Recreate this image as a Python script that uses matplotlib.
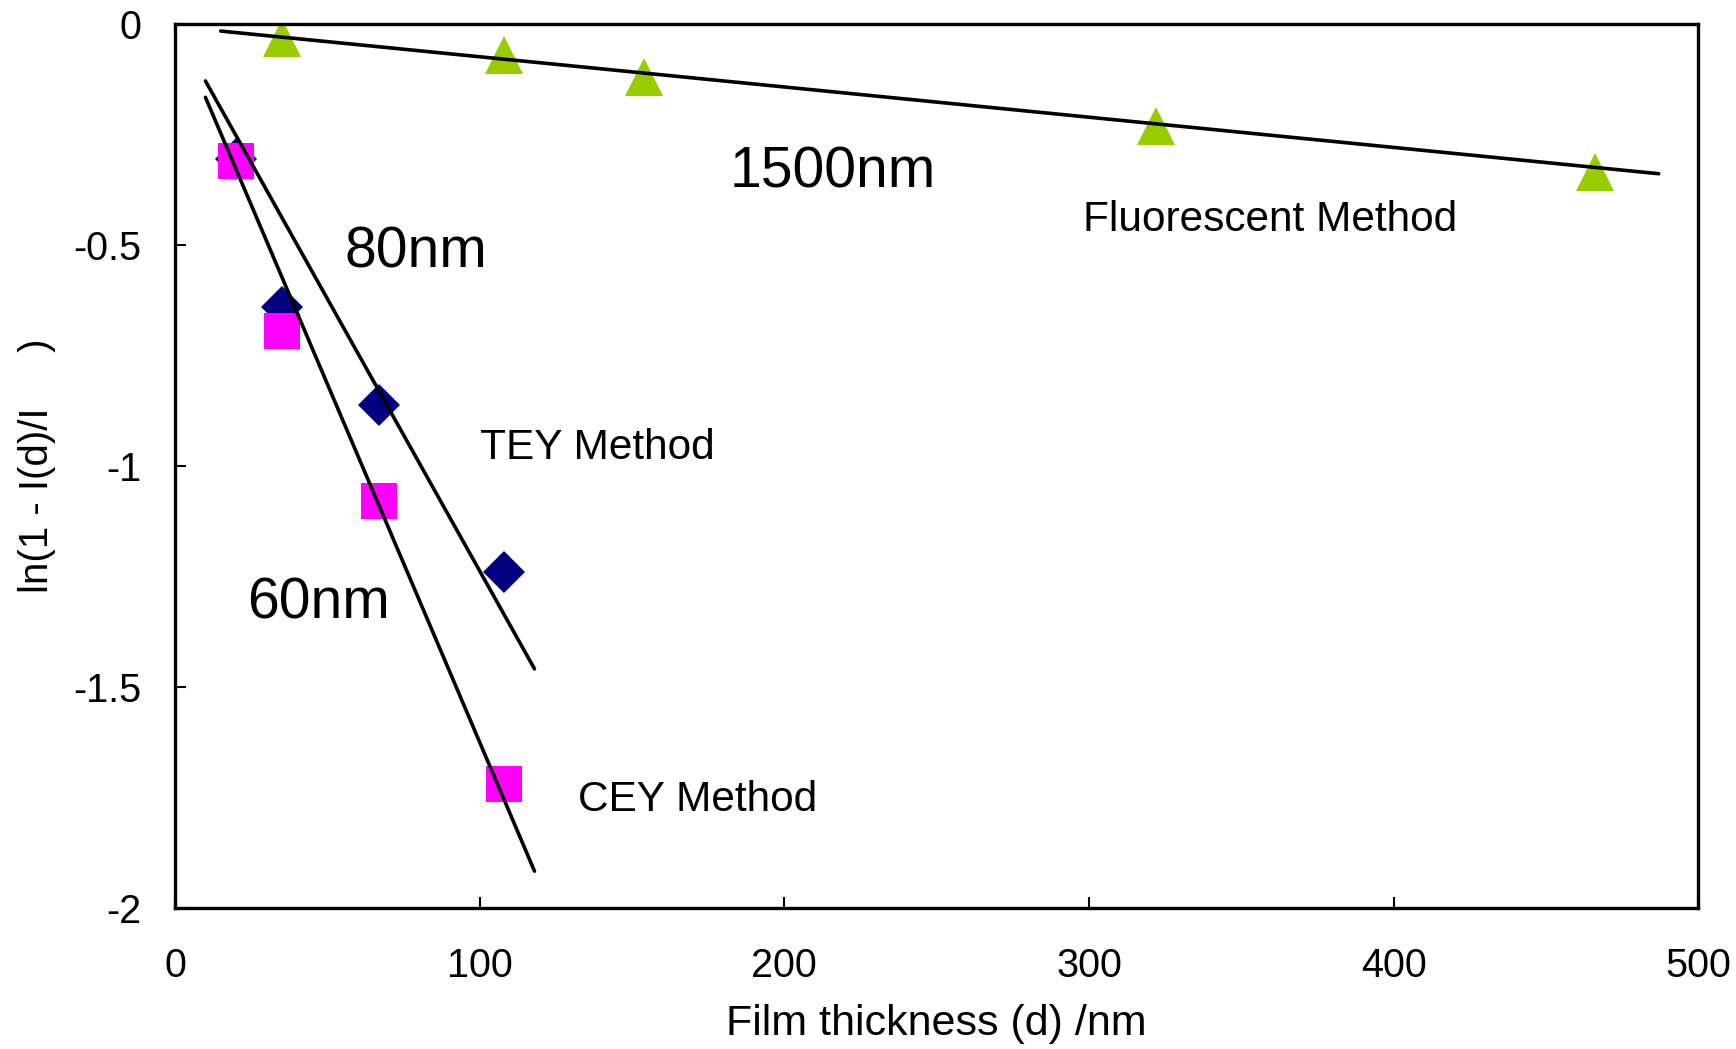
import numpy as np
import matplotlib
matplotlib.use("Agg")
from matplotlib import pyplot as plt

plt.rcParams['font.family'] = ['Liberation Sans', 'DejaVu Sans']

# Fluorescent method (triangles)
fl_x = [35, 108, 154, 322, 466]
fl_y = [-0.03, -0.07, -0.12, -0.23, -0.335]
# TEY method (diamonds)
tey_x = [20, 35, 67, 108]
tey_y = [-0.305, -0.64, -0.862, -1.24]
# CEY method (squares)
cey_x = [20, 35, 67, 108]
cey_y = [-0.31, -0.695, -1.08, -1.72]

# fitted lines (end points)
fl_fit_x = [15, 487]
fl_fit_y = [-0.015, -0.338]
tey_fit_x = [10, 118]
tey_fit_y = [-0.128, -1.459]
cey_fit_x = [10, 118]
cey_fit_y = [-0.165, -1.917]

fig = plt.figure(figsize=(17.36, 10.49), dpi=100)
ax = fig.add_axes([0.1008, 0.1346, 0.8775, 0.8421])

ax.plot(fl_x, fl_y, '^', color='#99CC00', markersize=27, markeredgewidth=0, zorder=2)
ax.plot(tey_x, tey_y, 'D', color='#000080', markersize=21, markeredgewidth=0, zorder=2)
ax.plot(cey_x, cey_y, 's', color='#FF00FF', markersize=26, markeredgewidth=0, zorder=3)

for fx, fy in [(fl_fit_x, fl_fit_y), (tey_fit_x, tey_fit_y), (cey_fit_x, cey_fit_y)]:
    ax.plot(fx, fy, color='black', lw=2.6, solid_capstyle='round', zorder=4)

ax.text(216, -0.336, '1500nm', fontsize=41, ha='center', va='center')
ax.text(79, -0.517, '80nm', fontsize=41, ha='center', va='center')
ax.text(47, -1.31, '60nm', fontsize=41, ha='center', va='center')
ax.text(138.5, -0.958, 'TEY Method', fontsize=30.5, ha='center', va='center')
ax.text(171.5, -1.755, 'CEY Method', fontsize=30.5, ha='center', va='center')
ax.text(359.5, -0.442, 'Fluorescent Method', fontsize=30.5, ha='center', va='center')

ax.set_xlim(0, 500)
ax.set_ylim(-2, 0)
ax.set_xticks([0, 100, 200, 300, 400, 500])
ax.set_yticks([-2, -1.5, -1, -0.5, 0])
ax.set_yticklabels(['-2', '-1.5', '-1', '-0.5', '0'])
ax.tick_params(direction='in', length=8, width=1.5, labelsize=28.5)
ax.tick_params(axis='x', pad=28)
ax.tick_params(axis='y', pad=24)
for s in ax.spines.values():
    s.set_linewidth(2.4)

ax.set_xlabel('Film thickness (d) /nm', fontsize=31)
ax.xaxis.set_label_coords(0.5, -0.1315)
ax.xaxis.label.set_va('center')
ax.set_ylabel('ln(1 - I(d)/I     )', fontsize=29)
ax.yaxis.set_label_coords(-0.0905, 0.5)
ax.yaxis.label.set_va('center')

fig.savefig('out.png', dpi=100)
